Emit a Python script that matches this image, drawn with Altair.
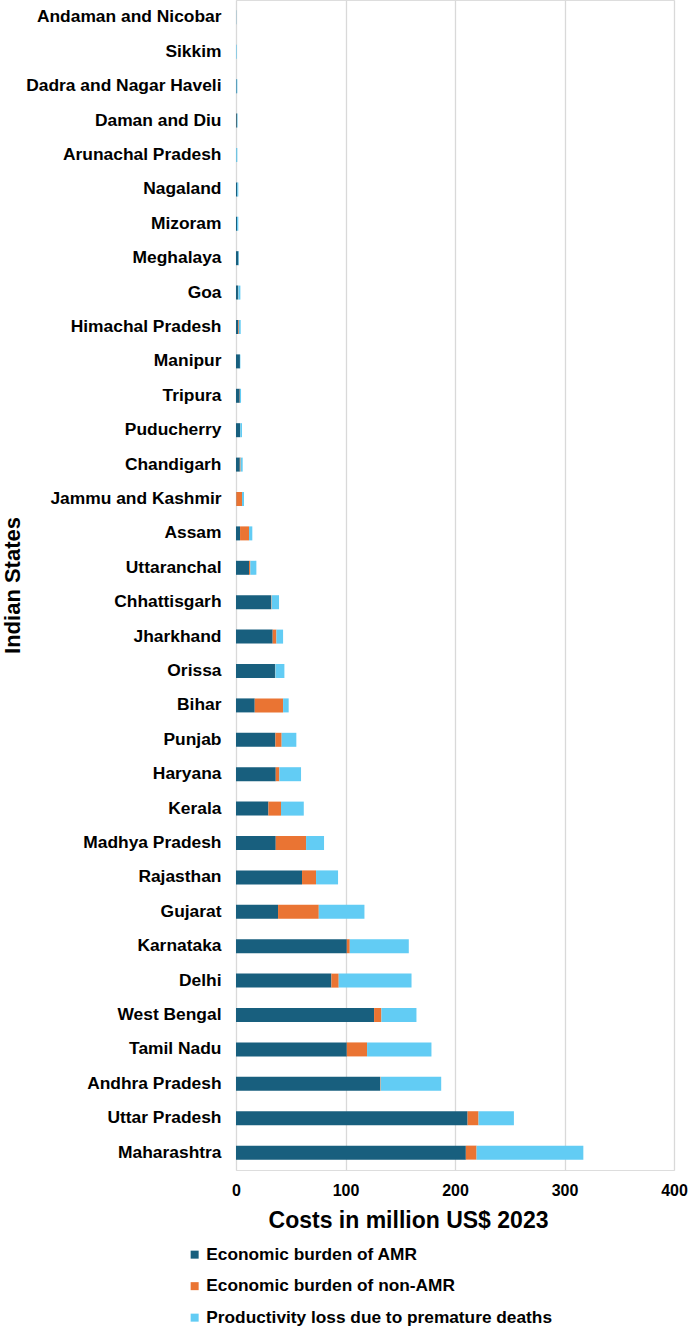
import altair as alt
import pandas as pd

states = [
    "Andaman and Nicobar", "Sikkim", "Dadra and Nagar Haveli", "Daman and Diu",
    "Arunachal Pradesh", "Nagaland", "Mizoram", "Meghalaya", "Goa",
    "Himachal Pradesh", "Manipur", "Tripura", "Puducherry", "Chandigarh",
    "Jammu and Kashmir", "Assam", "Uttaranchal", "Chhattisgarh", "Jharkhand",
    "Orissa", "Bihar", "Punjab", "Haryana", "Kerala", "Madhya Pradesh",
    "Rajasthan", "Gujarat", "Karnataka", "Delhi", "West Bengal", "Tamil Nadu",
    "Andhra Pradesh", "Uttar Pradesh", "Maharashtra",
]
amr = [0.1, 0.1, 0.6, 0.8, 0.3, 1.2, 1.0, 2.3, 1.8, 2.1, 3.6, 3.4, 3.7, 3.5,
       0.3, 3.7, 11.9, 32.0, 33.5, 35.6, 17.1, 36.0, 36.3, 29.6, 36.3, 60.3,
       38.4, 101.2, 87.1, 126.1, 101.2, 131.6, 211.5, 209.9]
non_amr = [0.0, 0.0, 0.0, 0.2, 0.0, 0.0, 0.0, 0.0, 0.3, 0.6, 0.0, 0.2, 0.2, 0.7,
           5.2, 8.2, 1.2, 0.5, 3.4, 0.3, 25.9, 5.7, 3.3, 11.5, 27.7, 12.8,
           37.2, 2.7, 6.7, 6.7, 18.5, 0.5, 10.0, 9.8]
productivity = [0.1, 0.5, 0.6, 0.5, 0.9, 0.9, 1.1, 0.4, 1.9, 1.6, 0.4, 1.0, 1.6,
                1.9, 1.8, 3.0, 5.5, 6.8, 6.1, 8.3, 5.1, 13.4, 19.8, 20.8, 16.4,
                20.1, 41.7, 53.9, 66.5, 32.0, 58.8, 55.3, 32.3, 97.5]

series = ["Economic burden of AMR", "Economic burden of non-AMR",
          "Productivity loss due to premature deaths"]
colors = ["#185F7E", "#EA7433", "#62CCF4"]
x_ticks = [0, 100, 200, 300, 400]

rows = []
for i, s in enumerate(states):
    for k, (name, vals) in enumerate(zip(series, [amr, non_amr, productivity])):
        rows.append({"state": s, "component": name, "value": vals[i], "ord": k})
df = pd.DataFrame(rows)

FONT = "Liberation Sans"

chart = alt.Chart(df).mark_bar(height=14).encode(
    y=alt.Y("state:N", sort=states,
            scale=alt.Scale(paddingInner=0.59, paddingOuter=0.3),
            axis=alt.Axis(title="Indian States", labelFontSize=17.4, labelFontWeight="bold",
                          labelColor="black", labelFont=FONT, ticks=False, domain=False,
                          labelPadding=15, labelLimit=400, titleFontSize=22, titleFont=FONT,
                          titleFontWeight="bold", titleColor="black",
                          titleX=-217, titleY=585, titleBaseline="alphabetic")),
    x=alt.X("value:Q", stack="zero",
            scale=alt.Scale(domain=[0, 400], nice=False),
            axis=alt.Axis(title="Costs in million US$ 2023", values=x_ticks,
                          labelFontSize=16, labelFontWeight="bold", labelColor="black",
                          labelFont=FONT, ticks=False, domain=False, labelPadding=12,
                          gridColor="#D9D9D9", gridWidth=1.3,
                          titleFontSize=23, titleFont=FONT, titleFontWeight="bold",
                          titleColor="black", titleX=172, titleY=57,
                          titleBaseline="alphabetic", titleAlign="center",
                          labelFlush=False)),
    color=alt.Color("component:N", sort=series,
                    scale=alt.Scale(domain=series, range=colors),
                    legend=alt.Legend(title=None, orient="none", legendX=-50, legendY=1246,
                                      direction="vertical", symbolType="square",
                                      symbolSize=64, symbolStrokeWidth=0,
                                      labelFontSize=17.3, labelFont=FONT,
                                      labelFontWeight="bold", labelColor="black",
                                      labelOffset=3, rowPadding=13.5, padding=0,
                                      labelLimit=500)),
    order=alt.Order("ord:Q"),
).properties(
    width=438, height=1170,
    autosize=alt.AutoSizeParams(type="none"),
    padding={"left": 236, "top": 0, "right": 14, "bottom": 157},
).configure_view(stroke=None).configure(background="white")

chart.save("out.html", embed_options={"renderer": "svg", "actions": False})
